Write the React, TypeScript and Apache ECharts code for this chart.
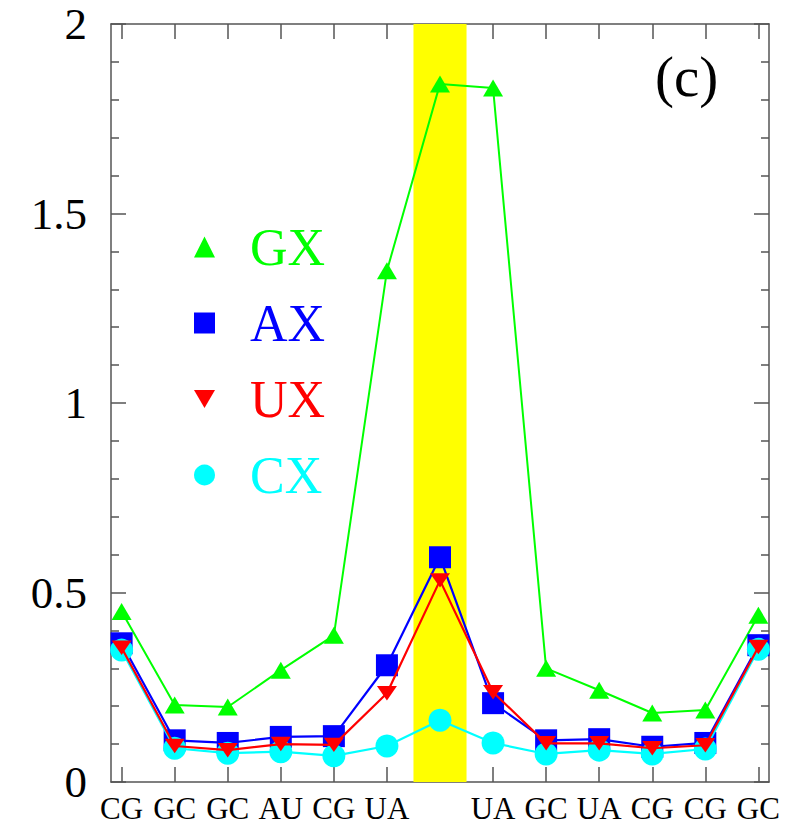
import React, { useEffect, useRef } from "react";
import * as echarts from "echarts";

const categories = ["CG", "GC", "GC", "AU", "CG", "UA", "", "UA", "GC", "UA", "CG", "CG", "GC"];
const gxValues = [0.45, 0.203, 0.198, 0.295, 0.387, 1.349, 1.842, 1.831, 0.3, 0.242, 0.182, 0.19, 0.44];
const axValues = [0.366, 0.11, 0.103, 0.119, 0.121, 0.308, 0.593, 0.208, 0.11, 0.113, 0.093, 0.103, 0.361];
const uxValues = [0.354, 0.095, 0.084, 0.1, 0.098, 0.234, 0.532, 0.237, 0.102, 0.102, 0.089, 0.097, 0.356];
const cxValues = [0.348, 0.089, 0.076, 0.08, 0.069, 0.095, 0.163, 0.103, 0.074, 0.084, 0.074, 0.087, 0.35];
const yTicks = [0, 0.5, 1, 1.5, 2];
const highlightIndex = 6;
const panelLabel = "(c)";

const FONT = "Liberation Serif";

export default function App() {
  const ref = useRef<HTMLDivElement>(null);

  useEffect(() => {
    document.body.style.margin = "0";
    if (!ref.current) return;
    const chart = echarts.init(ref.current, null, { renderer: "svg" });

    const idx = categories.map((_, i) => i);
    const labelIdx = idx.filter((i) => categories[i] !== "");
    const toPts = (arr: number[]) => arr.map((v, i) => [i, v]);

    const axisLineStyle = { color: "#555", width: 1.5 };
    const tickStyle = { color: "#555", width: 1.5 };

    const option: any = {
      animation: false,
      backgroundColor: "#fff",
      grid: { left: 111, right: 18, top: 24, bottom: 46, containLabel: false },
      xAxis: [
        {
          type: "value",
          position: "bottom",
          min: -0.2,
          max: categories.length - 1 + 0.2,
          splitLine: { show: false },
          axisLine: { show: true, onZero: false, lineStyle: axisLineStyle },
          axisTick: { show: true, inside: true, length: 15, lineStyle: tickStyle, customValues: idx },
          axisLabel: {
            show: true,
            customValues: labelIdx,
            formatter: (v: number) => categories[Math.round(v)] ?? "",
            fontFamily: FONT,
            fontSize: 31,
            color: "#000",
            margin: 11,
          },
        },
        {
          type: "value",
          position: "top",
          min: -0.2,
          max: categories.length - 1 + 0.2,
          splitLine: { show: false },
          axisLine: { show: true, onZero: false, lineStyle: axisLineStyle },
          axisTick: { show: true, inside: true, length: 15, lineStyle: tickStyle, customValues: idx },
          axisLabel: { show: false },
        },
      ],
      yAxis: [
        {
          type: "value",
          position: "left",
          min: yTicks[0],
          max: yTicks[yTicks.length - 1],
          interval: 0.5,
          splitLine: { show: false },
          axisLine: { show: true, onZero: false, lineStyle: axisLineStyle },
          axisTick: { show: true, inside: true, length: 15, lineStyle: tickStyle },
          minorTick: { show: true, splitNumber: 5, length: 8, lineStyle: tickStyle },
          axisLabel: {
            fontFamily: FONT,
            fontSize: 45,
            lineHeight: 36,
            color: "#000",
            margin: 24,
            formatter: (v: number) => String(v),
          },
        },
        {
          type: "value",
          position: "right",
          min: yTicks[0],
          max: yTicks[yTicks.length - 1],
          interval: 0.5,
          splitLine: { show: false },
          axisLine: { show: true, onZero: false, lineStyle: axisLineStyle },
          axisTick: { show: true, inside: true, length: 15, lineStyle: tickStyle },
          minorTick: { show: true, splitNumber: 5, length: 8, lineStyle: tickStyle },
          axisLabel: { show: false },
        },
      ],
      legend: {
        orient: "vertical",
        left: 189,
        top: 216,
        itemWidth: 21,
        itemHeight: 21,
        itemGap: 24,
        selectedMode: false,
        textStyle: { fontFamily: FONT, fontSize: 52, padding: [0, 0, 0, 30] },
        data: [
          { name: "GX", icon: "triangle", textStyle: { color: "#00ff00" } },
          { name: "AX", icon: "rect", textStyle: { color: "#0000ff" } },
          { name: "UX", icon: "path://M0,0L20,0L10,17Z", textStyle: { color: "#ff0000" } },
          { name: "CX", icon: "circle", textStyle: { color: "#00ffff" } },
        ],
      },
      graphic: [
        {
          type: "text",
          left: 655,
          top: 48,
          style: { text: panelLabel, fontFamily: FONT, fontSize: 57, fill: "#000" },
        },
      ],
      series: [
        {
          name: "band",
          type: "line",
          data: [],
          z: 0,
          silent: true,
          markArea: {
            silent: true,
            itemStyle: { color: "#ffff00", opacity: 1 },
            data: [[{ xAxis: highlightIndex - 0.5 }, { xAxis: highlightIndex + 0.5 }]],
          },
        },
        {
          name: "GX",
          type: "line",
          z: 2,
          data: toPts(gxValues),
          symbol: "triangle",
          symbolSize: [20, 17],
          itemStyle: { color: "#00ff00" },
          lineStyle: { color: "#00ff00", width: 2 },
        },
        {
          name: "AX",
          type: "line",
          z: 3,
          data: toPts(axValues),
          symbol: "rect",
          symbolSize: 22,
          itemStyle: { color: "#0000ff" },
          lineStyle: { color: "#0000ff", width: 2.2 },
        },
        {
          name: "CX",
          type: "line",
          z: 4,
          data: toPts(cxValues),
          symbol: "circle",
          symbolSize: 23,
          itemStyle: { color: "#00ffff" },
          lineStyle: { color: "#00ffff", width: 2.2 },
        },
        {
          name: "UX",
          type: "line",
          z: 5,
          data: toPts(uxValues),
          symbol: "path://M0,0L20,0L10,17Z",
          symbolSize: [20, 17],
          symbolKeepAspect: true,
          itemStyle: { color: "#ff0000" },
          lineStyle: { color: "#ff0000", width: 2.2 },
        },
      ],
    };

    chart.setOption(option);
    return () => chart.dispose();
  }, []);

  return <div ref={ref} style={{ width: 787, height: 828 }} />;
}
